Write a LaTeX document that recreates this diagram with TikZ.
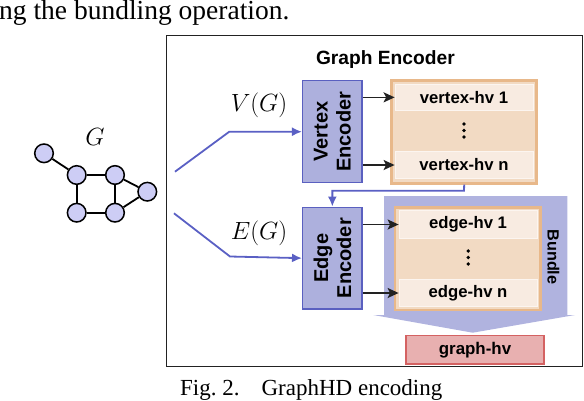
\documentclass[tikz,border=0pt]{standalone}
\usepackage{fontspec}
\setmainfont{Liberation Serif}
\newfontfamily\arialf{Liberation Sans}
\usetikzlibrary{arrows.meta}
\definecolor{encfill}{HTML}{ADB0DD}
\definecolor{encdraw}{HTML}{5A60C0}
\definecolor{bundfill}{HTML}{B0B3DF}
\definecolor{blueline}{HTML}{5A60C4}
\definecolor{orgdraw}{HTML}{E8B88A}
\definecolor{orgfill}{HTML}{F2DAC3}
\definecolor{rowfill}{HTML}{F8EBE1}
\definecolor{rowdraw}{HTML}{FCF5F0}
\definecolor{ghfill}{HTML}{E8B0B0}
\definecolor{ghdraw}{HTML}{D46262}
\definecolor{gnode}{HTML}{CDCDF5}
\definecolor{dark}{HTML}{222222}
\tikzset{
  encbox/.style={draw=encdraw, fill=encfill, line width=1.5pt, minimum width=59.3pt, minimum height=102pt, inner sep=0pt},
  enclabel/.style={font=\arialf\bfseries\fontsize{20}{23}\selectfont, align=center, rotate=90, inner sep=0pt},
  contbox/.style={draw=orgdraw, fill=orgfill, line width=2.5pt, inner sep=0pt},
  rowbox/.style={draw=rowdraw, fill=rowfill, line width=0.8pt, minimum width=138pt, inner sep=0pt, font=\arialf\bfseries\fontsize{16.7}{20}\selectfont},
  gv/.style={circle, draw=black, fill=gnode, line width=1.5pt, minimum size=18.6pt, inner sep=0pt},
  gedge/.style={line width=1.8pt, draw=black},
  blk/.style={draw=dark, line width=1.6pt, -{Stealth[length=11pt,width=10pt,inset=2.5pt]}},
  blu/.style={draw=blueline, line width=1.8pt, -{Latex[length=10pt,width=9pt]}},
  dotc/.style={circle, fill=black, minimum size=3.8pt, inner sep=0pt},
  mathlab/.style={inner sep=0pt, anchor=base, font=\fontsize{24}{28}\selectfont},
}
\begin{document}
\begin{tikzpicture}[x=1pt,y=-1pt]
\useasboundingbox (0,0) rectangle (584,400);
% surrounding text
\node[anchor=base west, inner sep=0pt, font=\fontsize{27.5}{32}\selectfont] (toptext) at (-1,19.5) {ng the bundling operation.};
\node[anchor=base west, inner sep=0pt, font=\fontsize{23}{27}\selectfont] (caption) at (180,395.3) {Fig.~2.\hspace{22pt}GraphHD encoding};
% outer box
\node[draw=dark, line width=1.2pt, minimum width=416.2pt, minimum height=331pt, inner sep=0pt] (outer) at (374.6,201.2) {};
\node[anchor=base, inner sep=0pt, font=\arialf\bfseries\fontsize{19.2}{23}\selectfont] (title) at (385.4,64) {Graph Encoder};
% bundle arrow shape
\path[fill=bundfill] (384,196) -- (567.3,196) -- (567.3,315) -- (575,315) -- (472.7,332.7) -- (373.3,315) -- (384,315) -- cycle;
% encoders
\node[encbox] (venc) at (332.35,131.7) {};
\node[enclabel] (venclab) at (venc.center) {Vertex\\Encoder};
\node[encbox, minimum height=101.7pt] (eenc) at (332.35,258.15) {};
\node[enclabel] (eenclab) at (eenc.center) {Edge\\Encoder};
% vertex container
\node[contbox, minimum width=145pt, minimum height=102.6pt] (vcont) at (464.2,132) {};
\node[rowbox, minimum height=26.7pt] (v1) at (464,97.35) {vertex-hv 1};
\node[rowbox, minimum height=26.6pt] (vn) at (464,165) {vertex-hv n};
\node[dotc] (vd1) at (464,124) {};
\node[dotc] (vd2) at (464,130.5) {};
\node[dotc] (vd3) at (464,137) {};
% edge container
\node[contbox, minimum width=145.7pt, minimum height=102.7pt] (econt) at (467.85,258.65) {};
\node[rowbox, minimum height=27.6pt] (e1) at (468,224.5) {edge-hv 1};
\node[rowbox, minimum height=27.4pt] (en) at (468,293) {edge-hv n};
\node[dotc] (ed1) at (468.3,251) {};
\node[dotc] (ed2) at (468.3,257.5) {};
\node[dotc] (ed3) at (468.3,264) {};
\node[rotate=-90, inner sep=0pt, font=\arialf\bfseries\fontsize{16.2}{20}\selectfont] (bundle) at (553.3,257) {Bundle};
% graph-hv
\node[draw=ghdraw, fill=ghfill, line width=1.5pt, minimum width=138pt, minimum height=28.3pt, inner sep=0pt, font=\arialf\bfseries\fontsize{16.9}{20}\selectfont] (ghv) at (475,349.85) {graph-hv};
% black arrows
\draw[blk] (venc.east |- v1) -- (v1.west);
\draw[blk] (venc.east |- vn) -- (vn.west);
\draw[blk] (eenc.east |- e1) -- (e1.west);
\draw[blk] (eenc.east |- en) -- (en.west);
% blue connectors
\draw[blu] (vcont.south) -- (464,190.7) -- (332.35,190.7) -- (eenc.north);
\coordinate (vstart) at (175,171.7);
\coordinate (estart) at (174,213.3);
\draw[blu] (vstart) -- (229.3,131.7) -- (venc.west);
\draw[blu] (estart) -- (230,256.5) -- (eenc.west);
\node[mathlab] (vg) at (259,111) {$V(G)$};
\node[mathlab] (eg) at (259,239) {$E(G)$};
% graph G
\node[inner sep=0pt, anchor=base, font=\fontsize{24}{28}\selectfont] (glab) at (95,145) {$G$};
\node[gv] (n1) at (44,153.3) {};
\node[gv] (n2) at (76.7,175) {};
\node[gv] (n3) at (115,175) {};
\node[gv] (n4) at (147.3,191.7) {};
\node[gv] (n5) at (76.7,212.7) {};
\node[gv] (n6) at (115,212.7) {};
\draw[gedge] (n1) -- (n2);
\draw[gedge] (n2) -- (n3);
\draw[gedge] (n2) -- (n5);
\draw[gedge] (n3) -- (n6);
\draw[gedge] (n5) -- (n6);
\draw[gedge] (n3) -- (n4);
\draw[gedge] (n6) -- (n4);
\end{tikzpicture}
\end{document}
